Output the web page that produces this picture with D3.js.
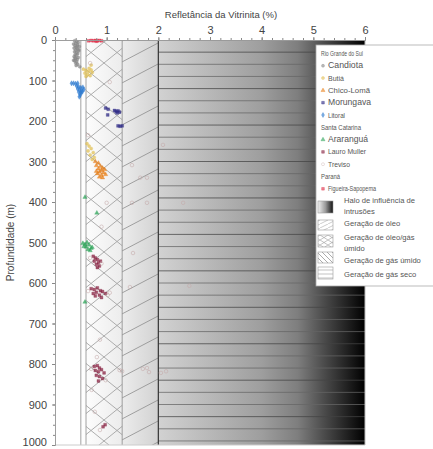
<!DOCTYPE html>
<html>
<head>
<meta charset="utf-8">
<script src="https://cdn.jsdelivr.net/npm/d3@7"></script>
<style>
  html, body { margin: 0; padding: 0; background: #fff; }
  svg { display: block; font-family: "Liberation Sans", Arial, sans-serif; }
</style>
</head>
<body>
<svg id="chart" width="433" height="449"></svg>
<script>
// Vitrinite reflectance (%Ro) versus depth (m), by coal field
const xTicks = [0, 1, 2, 3, 4, 5, 6];
const yTicks = [0, 100, 200, 300, 400, 500, 600, 700, 800, 900, 1000];

// maturation zone limits (%Ro)
const zoneLimits = [0.5, 0.6, 1.3, 2.0];

const candiota = [[0.38,2],[0.42,4],[0.45,6],[0.4,8],[0.36,10],[0.44,12],[0.39,14],[0.47,16],[0.41,18],[0.37,20],[0.43,22],[0.4,25],[0.46,27],[0.38,29],[0.42,31],[0.44,34],[0.39,36],[0.41,38],[0.37,41],[0.45,43],[0.4,46],[0.43,48],[0.38,51],[0.42,54],[0.4,57],[0.44,60],[0.41,63],[0.48,66],[0.36,50],[0.46,24],[0.43,15],[0.39,44]];
const butia = [[0.55,72],[0.6,75],[0.65,78],[0.7,74],[0.58,82],[0.63,85],[0.68,88],[0.72,80],[0.6,90],[0.66,70],[0.7,62],[0.62,256],[0.66,262],[0.7,268],[0.64,274],[0.74,278],[0.68,284],[0.76,290],[0.72,295]];
const chicoLoma = [[0.78,300],[0.84,304],[0.8,310],[0.88,312],[0.92,316],[0.84,318],[0.9,322],[0.96,320],[0.86,326],[0.94,328],[0.82,330],[0.9,334],[0.86,338],[0.92,340],[0.98,332],[0.8,324]];
const morungava = [[0.98,168],[1.03,171],[1.15,174],[1.18,176],[1.22,175],[1.25,178],[1.2,180],[1.22,212],[1.26,213],[1.3,212],[1.02,185]];
const litoral = [[0.32,107],[0.36,107],[0.4,108],[0.44,107],[0.42,114],[0.46,116],[0.5,118],[0.54,117],[0.44,121],[0.48,124],[0.52,126],[0.56,122],[0.46,129],[0.5,131],[0.53,128],[0.49,136],[0.47,140]];
const ararangua = [[0.54,502],[0.58,505],[0.62,500],[0.66,506],[0.6,511],[0.7,514],[0.64,517],[0.56,510],[0.68,520],[0.72,512],[0.58,647],[0.58,388],[0.81,427]];
const lauroMuller = [[0.74,534],[0.78,538],[0.82,542],[0.76,546],[0.84,550],[0.8,554],[0.86,558],[0.82,562],[0.88,546],[0.7,614],[0.76,616],[0.82,612],[0.88,619],[0.8,623],[0.92,621],[0.98,626],[0.86,630],[0.78,632],[0.9,636],[0.74,626],[0.76,806],[0.82,804],[0.86,810],[0.78,816],[0.84,819],[0.9,814],[0.8,828],[0.86,831],[0.92,836],[0.84,842],[0.95,822],[0.97,950],[0.93,955]];
const treviso = [[0.68,538],[0.9,552],[0.64,620],[1.02,630],[1.06,624],[0.7,812],[0.98,840],[1.25,815],[1.3,818],[1.7,812],[1.78,810],[1.82,820],[2.05,822],[2.15,818],[0.68,57],[0.64,235],[1.06,104],[1.49,309],[1.65,340],[1.78,340],[1.0,402],[1.49,402],[1.78,402],[0.9,461],[1.45,610],[1.51,526],[0.87,740],[0.81,783],[0.77,918],[0.71,864],[0.87,963],[2.09,259],[2.6,607],[2.48,402]];
const figueira = [[0.65,2],[0.7,1],[0.74,2],[0.78,1],[0.82,2],[0.86,1],[0.9,2],[0.8,3]];

// legend entries: label size and drawn width
const series = [
  {name: "Candiota", data: candiota, color: "#8a8a8a", shape: d3.symbolCircle, fs: 9, w: 35},
  {name: "Butiá", data: butia, color: "#e2c25a", shape: d3.symbolCircle, fs: 7, w: 16},
  {name: "Chico-Lomã", data: chicoLoma, color: "#e8801a", shape: d3.symbolTriangle, fs: 7, w: 42},
  {name: "Morungava", data: morungava, color: "#2e2a86", shape: d3.symbolSquare, fs: 9, w: 43},
  {name: "Litoral", data: litoral, color: "#2f7bd0", shape: d3.symbolDiamond, fs: 7, w: 17},
  {name: "Araranguá", data: ararangua, color: "#2fa45a", shape: d3.symbolTriangle, fs: 9, w: 40},
  {name: "Lauro Muller", data: lauroMuller, color: "#8a2444", shape: d3.symbolSquare, fs: 7.5, w: 38},
  {name: "Treviso", data: treviso, color: "#c4a8a8", shape: d3.symbolCircle, hollow: true, fs: 7, w: 22},
  {name: "Figueira-Sapopema", data: figueira, color: "#e0304a", shape: d3.symbolSquare, fs: 7, w: 48}
];
const groups = [
  {title: "Rio Grande do Sul", w: 42, items: ["Candiota", "Butiá", "Chico-Lomã", "Morungava", "Litoral"]},
  {title: "Santa Catarina", w: 40, items: ["Araranguá", "Lauro Muller", "Treviso"]},
  {title: "Paraná", w: 19, items: ["Figueira-Sapopema"]}
];
const zoneLabels = ["Halo de influência de intrusões", "Geração de óleo", "Geração de óleo/gás úmido", "Geração de gás úmido", "Geração de gás seco"];

const svg = d3.select("#chart");
const x = d3.scaleLinear().domain([0, 6]).range([55, 365]);
const y = d3.scaleLinear().domain([0, 1000]).range([40, 445]);
const defs = svg.append("defs");

// halo gradient: white to black with increasing reflectance
const grad = defs.append("linearGradient").attr("id", "halo")
  .attr("gradientUnits", "userSpaceOnUse")
  .attr("x1", x(0.5)).attr("x2", x(6)).attr("y1", 0).attr("y2", 0);
[[0.5,"#ffffff"],[1.3,"#ececec"],[2.0,"#d2d2d2"],[3.0,"#b8b8b8"],[4.0,"#9e9e9e"],[4.7,"#7e7e7e"],[5.2,"#4c4c4c"],[5.6,"#262626"],[6.0,"#000000"]]
  .forEach(([v, c]) => grad.append("stop").attr("offset", (v - 0.5) / 5.5).attr("stop-color", c));
const lgrad = defs.append("linearGradient").attr("id", "haloKey");
[[0,"#f2f2f2"],[0.5,"#9a9a9a"],[1,"#111"]].forEach(([o, c]) => lgrad.append("stop").attr("offset", o).attr("stop-color", c));

// hatch patterns (tile of w x h with diagonals corner to corner)
function hatch(id, w, h, dirs, stroke, sw) {
  const p = defs.append("pattern").attr("id", id).attr("patternUnits", "userSpaceOnUse")
    .attr("width", w).attr("height", h);
  const path = [];
  if (dirs.includes("/")) path.push(`M${-w},${h} L0,0 M0,${h} L${w},0 M${w},${h} L${2*w},0`);
  if (dirs.includes("\\")) path.push(`M${-w},0 L0,${h} M0,0 L${w},${h} M${w},0 L${2*w},${h}`);
  if (dirs.includes("-")) path.push(`M0,${h/2} L${w},${h/2}`);
  p.append("path").attr("d", path.join(" ")).attr("stroke", stroke).attr("stroke-width", sw).attr("fill", "none");
  return p;
}
hatch("cross", 26, 21, ["/", "\\"], "#9a9a9a", 0.8);
hatch("wet", 40, 21, ["/"], "#8c8c8c", 0.8);
hatch("oilKey", 8, 4, ["/"], "#aaa", 0.6);
hatch("crossKey", 8, 5, ["/", "\\"], "#999", 0.6);
hatch("wetKey", 5, 5, ["\\"], "#888", 0.7);
hatch("dryKey", 8, 4, ["-"], "#999", 0.6);

const plot = svg.append("g");
const top0 = y(0), hgt = y(1000) - y(0);
// background halo
plot.append("rect").attr("x", x(0.5)).attr("y", top0).attr("width", x(6) - x(0.5)).attr("height", hgt)
  .attr("fill", "url(#halo)");
// oil / wet gas crosshatch
plot.append("rect").attr("x", x(0.6)).attr("y", top0).attr("width", x(1.3) - x(0.6)).attr("height", hgt)
  .attr("fill", "url(#cross)");
// wet gas
plot.append("rect").attr("x", x(1.3)).attr("y", top0).attr("width", x(2.0) - x(1.3)).attr("height", hgt)
  .attr("fill", "url(#wet)");
// dry gas: horizontal rules
const rules = d3.range(30, 1000, 30);
plot.selectAll("line.dry").data(rules).join("line").attr("class", "dry")
  .attr("x1", x(2.0)).attr("x2", x(6)).attr("y1", d => y(d)).attr("y2", d => y(d))
  .attr("stroke", (d, i) => i % 3 === 0 ? "#444" : "#666").attr("stroke-opacity", 0.75).attr("stroke-width", 1);
// zone boundaries
plot.selectAll("line.zone").data(zoneLimits).join("line").attr("class", "zone")
  .attr("x1", d => x(d)).attr("x2", d => x(d)).attr("y1", top0).attr("y2", y(1000))
  .attr("stroke", d => d === 2.0 ? "#333" : "#8a8a8a").attr("stroke-width", d => d === 2.0 ? 1.2 : 0.8);
plot.append("line").attr("x1", x(6)).attr("x2", x(6)).attr("y1", top0).attr("y2", y(1000)).attr("stroke", "#bbb");
plot.append("line").attr("x1", x(0)).attr("x2", x(6)).attr("y1", y(1000)).attr("y2", y(1000)).attr("stroke", "#ccc");

// points
const sym = d3.symbol();
series.forEach(s => {
  plot.append("g").selectAll("path").data(s.data).join("path")
    .attr("transform", d => `translate(${x(d[0])},${y(d[1])})`)
    .attr("d", sym.type(s.shape).size(s.hollow ? 10 : 8)())
    .attr("fill", s.hollow ? "none" : s.color)
    .attr("fill-opacity", 0.75)
    .attr("stroke", s.color).attr("stroke-width", 0.6).attr("stroke-opacity", s.hollow ? 0.9 : 0.5);
});

// axes
const xa = svg.append("g").attr("transform", `translate(0,${top0})`)
  .call(d3.axisTop(x).tickValues(xTicks).tickFormat(d3.format("d")).tickSize(3).tickPadding(3));
const xm = svg.append("g").attr("transform", `translate(0,${top0})`)
  .call(d3.axisTop(x).tickValues(d3.range(0, 6.01, 0.2)).tickFormat("").tickSize(2));
const ya = svg.append("g").attr("transform", `translate(${x(0)},0)`)
  .call(d3.axisLeft(y).tickValues(yTicks).tickFormat(d3.format("d")).tickSize(3).tickPadding(5));
const ym = svg.append("g").attr("transform", `translate(${x(0)},0)`)
  .call(d3.axisLeft(y).tickValues(d3.range(0, 1001, 25)).tickFormat("").tickSize(2));
[xa, xm, ya, ym].forEach(g => {
  g.select(".domain").attr("stroke", "#999").attr("stroke-width", 0.8);
  g.selectAll(".tick line").attr("stroke", "#888");
  g.selectAll("text").attr("fill", "#444").attr("font-size", 11).attr("font-family", "Liberation Sans, Arial, sans-serif");
});
// keep the bottom depth label inside the page
ya.selectAll(".tick text").filter(d => d === 1000).attr("dy", "0.05em");

svg.append("text").attr("x", 221).attr("y", 18).attr("text-anchor", "middle")
  .attr("font-size", 9.5).attr("fill", "#444").text("Refletância da Vitrinita (%)");
svg.append("text").attr("transform", `translate(14,${(top0 + y(1000)) / 2}) rotate(-90)`)
  .attr("text-anchor", "middle").attr("font-size", 10).attr("fill", "#444").text("Profundidade (m)");

// legend
const lg = svg.append("g");
lg.append("rect").attr("x", 316).attr("y", 45).attr("width", 125).attr("height", 241)
  .attr("fill", "#fff").attr("stroke", "#aaa").attr("stroke-width", 0.8);
let ly = 56;
groups.forEach(gp => {
  lg.append("text").attr("x", 321).attr("y", ly).attr("font-size", 7).attr("fill", "#555")
    .attr("textLength", gp.w).attr("lengthAdjust", "spacingAndGlyphs").text(gp.title);
  ly += 12.3;
  gp.items.forEach(n => {
    const s = series.find(v => v.name === n);
    lg.append("path").attr("transform", `translate(323,${ly - 2.5})`)
      .attr("d", sym.type(s.shape).size(7)())
      .attr("fill", s.hollow ? "none" : s.color).attr("fill-opacity", 0.6)
      .attr("stroke", s.color).attr("stroke-width", 0.6).attr("stroke-opacity", 0.6);
    lg.append("text").attr("x", 328).attr("y", ly).attr("font-size", s.fs)
      .attr("textLength", s.w).attr("lengthAdjust", "spacingAndGlyphs")
      .attr("fill", "#555").text(n);
    ly += 12.3;
  });
});
const keys = [
  {y: 201, h: 12, fill: "url(#haloKey)", ty: 203, lines: ["Halo de influência de", "intrusões"]},
  {y: 220, h: 10, fill: "url(#oilKey)", ty: 226, lines: [zoneLabels[1]]},
  {y: 235, h: 12, fill: "url(#crossKey)", ty: 240, lines: ["Geração de óleo/gás", "úmido"]},
  {y: 252, h: 11, fill: "url(#wetKey)", ty: 263, lines: [zoneLabels[3]]},
  {y: 267, h: 12, fill: "url(#dryKey)", ty: 277, lines: [zoneLabels[4]]}
];
keys.forEach(k => {
  lg.append("rect").attr("x", 318).attr("y", k.y).attr("width", 15).attr("height", k.h)
    .attr("fill", k.fill).attr("stroke", "#999").attr("stroke-width", 0.6);
  k.lines.forEach((t, i) => {
    lg.append("text").attr("x", 344).attr("y", k.ty + i * 11).attr("font-size", 7.6)
      .attr("fill", "#555").text(t);
  });
});
</script>
</body>
</html>
